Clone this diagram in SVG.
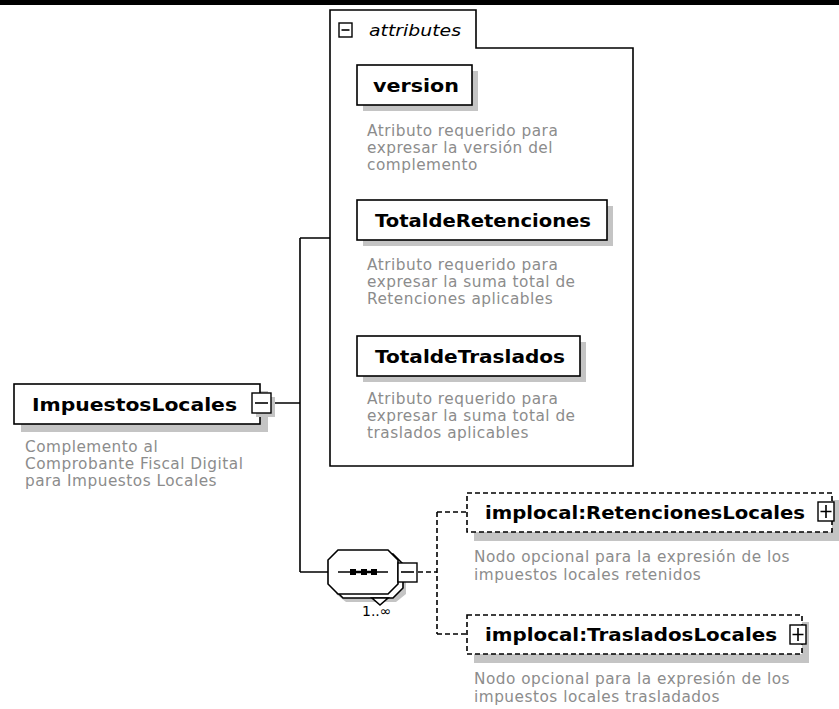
<svg xmlns="http://www.w3.org/2000/svg" width="839" height="709" viewBox="0 0 839 709">
<defs>
<style>
.box{fill:#fff;stroke:#000;stroke-width:1.6}
.dbox{fill:#fff;stroke:#000;stroke-width:1.6;stroke-dasharray:5,3}
.sh{fill:#c4c4c4}
.t{font-family:"DejaVu Sans",Verdana,sans-serif;font-weight:bold;font-size:18.5px;fill:#000}
.d{font-family:"DejaVu Sans",Verdana,sans-serif;font-size:15.3px;letter-spacing:0.5px;fill:#8c8c8c}
.ln{fill:none;stroke:#000;stroke-width:1.6}
.dl{fill:none;stroke:#000;stroke-width:1.6;stroke-dasharray:5,3}
.pm{fill:#fff;stroke:#000;stroke-width:1.4}
</style>
</defs>
<rect x="0" y="0" width="839" height="709" fill="#fff"/>
<rect x="0" y="0" width="839" height="5" fill="#000"/>

<g id="connectors">
<path class="ln" d="M271,403 H300 M300,238 V572 M300,238 H330 M300,572 H328"/>
<path class="dl" d="M418,572 H437 M437,512 V634 M437,512 H467 M437,634 H467"/>
</g>

<g id="attributes">
<path class="ln" d="M330,10 H476 V48 H633 V466 H330 Z"/>
<rect class="pm" x="339" y="23" width="13" height="14"/>
<path class="ln" d="M341.5,30 H349.5"/>
<text x="369" y="36" font-family="DejaVu Sans,Verdana,sans-serif" font-style="italic" font-size="15.5px" textLength="92" lengthAdjust="spacingAndGlyphs">attributes</text>
</g>

<g id="version">
<rect class="sh" x="363" y="71" width="115" height="40"/>
<rect class="box" x="357" y="65" width="115" height="40"/>
<text class="t" x="373" y="92" textLength="86" lengthAdjust="spacingAndGlyphs">version</text>
<text class="d" x="367" y="136">Atributo requerido para</text>
<text class="d" x="367" y="153">expresar la versión del</text>
<text class="d" x="367" y="170">complemento</text>
</g>

<g id="TotaldeRetenciones">
<rect class="sh" x="363" y="206" width="250" height="40"/>
<rect class="box" x="357" y="200" width="250" height="40"/>
<text class="t" x="375" y="227" textLength="216" lengthAdjust="spacingAndGlyphs">TotaldeRetenciones</text>
<text class="d" x="367" y="270">Atributo requerido para</text>
<text class="d" x="367" y="287">expresar la suma total de</text>
<text class="d" x="367" y="304">Retenciones aplicables</text>
</g>

<g id="TotaldeTraslados">
<rect class="sh" x="363" y="342" width="223" height="40"/>
<rect class="box" x="357" y="336" width="223" height="40"/>
<text class="t" x="375" y="363" textLength="190" lengthAdjust="spacingAndGlyphs">TotaldeTraslados</text>
<text class="d" x="367" y="404">Atributo requerido para</text>
<text class="d" x="367" y="421">expresar la suma total de</text>
<text class="d" x="367" y="438">traslados aplicables</text>
</g>

<g id="ImpuestosLocales">
<rect class="sh" x="21" y="391" width="247" height="41"/>
<rect class="box" x="14" y="384" width="246" height="40"/>
<text class="t" x="32" y="411" textLength="205" lengthAdjust="spacingAndGlyphs">ImpuestosLocales</text>
<rect class="sh" x="256" y="397" width="19" height="20"/>
<rect class="pm" x="252" y="393" width="19" height="20"/>
<path class="ln" d="M255,403 H268"/>
<text class="d" x="25" y="452">Complemento al</text>
<text class="d" x="25" y="469">Comprobante Fiscal Digital</text>
<text class="d" x="25" y="486">para Impuestos Locales</text>
</g>

<g id="sequence">
<polygon class="sh" points="346,558 396,558 406,568 406,594 396,602 346,602 336,594 336,568"/>
<polygon class="box" points="343,554 393,554 403,564 403,588 393,598 343,598 333,588 333,564"/>
<polygon class="box" points="338,550 388,550 398,560 398,584 388,594 338,594 328,584 328,560"/>
<polygon class="box" points="372,598 388,598 380,605"/>
<path class="ln" d="M338,572 H388"/>
<path d="M352,572 H377" stroke="#000" stroke-width="2.5"/>
<rect x="350" y="569" width="6" height="6" fill="#000"/>
<rect x="361" y="569" width="6" height="6" fill="#000"/>
<rect x="371" y="569" width="6" height="6" fill="#000"/>
<rect class="pm" x="398" y="563" width="19" height="19"/>
<path class="ln" d="M401,572 H414"/>
<text x="362" y="616" font-family="DejaVu Sans,Verdana,sans-serif" font-size="14px">1..∞</text>
</g>

<g id="RetencionesLocales">
<rect class="sh" x="474" y="532" width="365" height="9"/>
<rect class="sh" x="832" y="500" width="7" height="41"/>
<rect class="dbox" x="467" y="493" width="365" height="39"/>
<text class="t" x="485" y="519" textLength="320" lengthAdjust="spacingAndGlyphs">implocal:RetencionesLocales</text>
<rect class="pm" x="818" y="502" width="16" height="19"/>
<path class="ln" d="M820.5,511.5 H831.5 M826,505 V518"/>
<text class="d" x="474" y="562">Nodo opcional para la expresión de los</text>
<text class="d" x="474" y="580">impuestos locales retenidos</text>
</g>

<g id="TrasladosLocales">
<rect class="sh" x="474" y="654" width="335" height="9"/>
<rect class="sh" x="802" y="622" width="7" height="41"/>
<rect class="dbox" x="467" y="615" width="335" height="39"/>
<text class="t" x="485" y="641" textLength="292" lengthAdjust="spacingAndGlyphs">implocal:TrasladosLocales</text>
<rect class="pm" x="790" y="625" width="16" height="19"/>
<path class="ln" d="M792.5,634.5 H803.5 M798,628 V641"/>
<text class="d" x="474" y="684">Nodo opcional para la expresión de los</text>
<text class="d" x="474" y="702">impuestos locales trasladados</text>
</g>
</svg>
